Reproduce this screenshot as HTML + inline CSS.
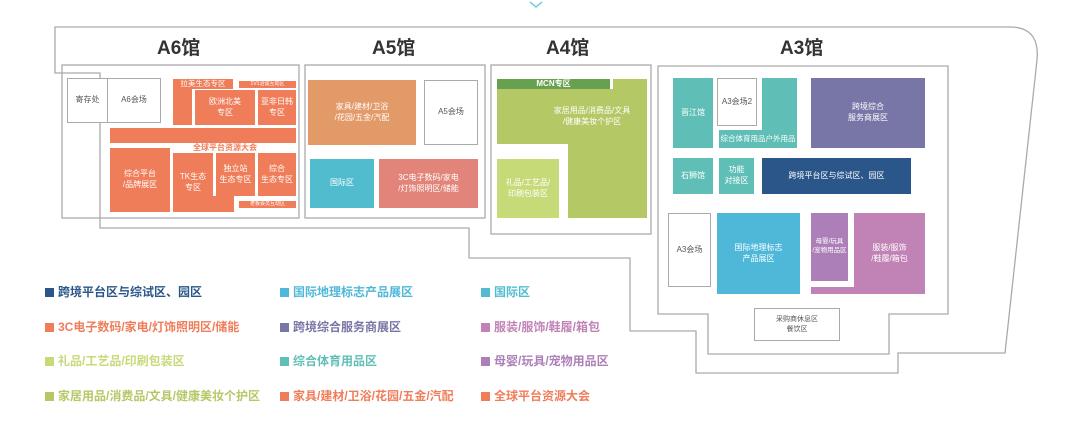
<!DOCTYPE html>
<html><head><meta charset="utf-8"><style>
body{margin:0;width:1080px;height:441px;background:#fff;position:relative;overflow:hidden;font-family:"Liberation Sans","Noto Sans CJK SC",sans-serif;}
.b{position:absolute;display:flex;align-items:center;justify-content:center;text-align:center;color:#fff;font-size:8px;line-height:1.35;box-sizing:border-box;}
.w{background:#fff;border:1px solid #aaa;color:#555;}
.t{position:absolute;font-size:19px;font-weight:bold;color:#333;}
.lg{position:absolute;font-size:12px;font-weight:bold;white-space:nowrap;}
.lg i{display:inline-block;width:9px;height:9px;margin-right:4px;vertical-align:-1px;}
.o{background:#ef7d5a}
</style></head><body>
<svg width="1080" height="441" style="position:absolute;left:0;top:0" fill="none" stroke="#aaa" stroke-width="1.3">
<polyline points="530,2 536,7 542,2" stroke="#5cc8dc"/>
<path d="M55,27 L1010,27 Q1040,27 1037,60 L1005,353 L898,353 L898,373 L696,373 L696,331 L630,331 L630,258 L469,258 L469,228 L100,228 L100,73 L55,73 Z"/>
<rect x="62" y="65" width="237" height="153"/>
<rect x="305" y="65" width="180" height="153"/>
<rect x="491" y="65" width="160" height="169"/>
<path d="M658,66 L948,66 L948,314 L889,314 L889,354 L708,354 L708,314 L658,314 Z"/>
</svg>
<div class="t" style="left:157px;top:33px">A6馆</div>
<div class="t" style="left:372px;top:33px">A5馆</div>
<div class="t" style="left:546px;top:33px">A4馆</div>
<div class="t" style="left:780px;top:33px">A3馆</div>

<div class="b w" style="left:67px;top:78px;width:41px;height:45px">寄存处</div>
<div class="b w" style="left:107px;top:78px;width:54px;height:45px">A6会场</div>
<div class="b o" style="left:173px;top:79px;width:60px;height:10px;font-size:7.5px">拉美生态专区</div>
<div class="b o" style="left:173px;top:88px;width:19px;height:37px"></div>
<div class="b o" style="left:239px;top:81px;width:57px;height:7px;font-size:5px">1V1洽谈互动区</div>
<div class="b o" style="left:195px;top:90px;width:60px;height:35px">欧洲北美<br>专区</div>
<div class="b o" style="left:258px;top:90px;width:38px;height:35px">亚非日韩<br>专区</div>
<div class="b o" style="left:110px;top:128px;width:186px;height:15px"></div>
<div class="b" style="left:160px;top:143px;width:130px;height:10px;color:#ef7d5a;font-weight:bold;font-size:8px">全球平台资源大会</div>
<div class="b o" style="left:110px;top:148px;width:60px;height:64px">综合平台<br>/品牌展区</div>
<div class="b o" style="left:173px;top:153px;width:40px;height:59px">TK生态<br>专区</div>
<div class="b o" style="left:212px;top:196px;width:22px;height:16px"></div>
<div class="b o" style="left:216px;top:153px;width:39px;height:43px">独立站<br>生态专区</div>
<div class="b o" style="left:258px;top:153px;width:38px;height:43px">综合<br>生态专区</div>
<div class="b o" style="left:239px;top:201px;width:57px;height:7px;font-size:5px">老板会员互动区</div>

<div class="b" style="left:308px;top:80px;width:108px;height:65px;background:#e39a69">家具/建材/卫浴<br>/花园/五金/汽配</div>
<div class="b w" style="left:424px;top:80px;width:54px;height:65px">A5会场</div>
<div class="b" style="left:310px;top:159px;width:64px;height:49px;background:#52bccf">国际区</div>
<div class="b" style="left:379px;top:159px;width:99px;height:49px;background:#e2847a">3C电子数码/家电<br>/灯饰照明区/储能</div>

<div class="b" style="left:497px;top:79px;width:113px;height:10px;background:#67a04f;font-weight:bold">MCN专区</div>
<div class="b" style="left:613px;top:79px;width:34px;height:11px;background:#b5c866"></div>
<div class="b" style="left:497px;top:89px;width:150px;height:55px;background:#b5c866;padding-left:40px">家居用品/消费品/文具<br>/健康美妆个护区</div>
<div class="b" style="left:568px;top:143px;width:79px;height:75px;background:#b5c866"></div>
<div class="b" style="left:497px;top:159px;width:62px;height:59px;background:#c7da78">礼品/工艺品/<br>印刷包装区</div>

<div class="b" style="left:673px;top:78px;width:40px;height:70px;background:#5fbfb6">晋江馆</div>
<div class="b w" style="left:717px;top:78px;width:40px;height:48px">A3会场2</div>
<div class="b" style="left:762px;top:78px;width:35px;height:70px;background:#5fbfb6"></div>
<div class="b" style="left:719px;top:130px;width:78px;height:18px;background:#5fbfb6;font-size:7.5px;white-space:nowrap">综合体育用品户外用品</div>
<div class="b" style="left:811px;top:78px;width:114px;height:70px;background:#7776a6">跨境综合<br>服务商展区</div>
<div class="b" style="left:673px;top:158px;width:40px;height:36px;background:#5fbfb6">石狮馆</div>
<div class="b" style="left:719px;top:158px;width:35px;height:36px;background:#5fbfb6">功能<br>对接区</div>
<div class="b" style="left:762px;top:158px;width:149px;height:36px;background:#2a5689">跨境平台区与综试区、园区</div>
<div class="b w" style="left:668px;top:213px;width:43px;height:74px">A3会场</div>
<div class="b" style="left:717px;top:213px;width:83px;height:81px;background:#4fb8d9">国际地理标志<br>产品展区</div>
<div class="b" style="left:811px;top:213px;width:37px;height:68px;background:#ad7fb8;font-size:6.5px">母婴/玩具<br>/宠物用品区</div>
<div class="b" style="left:854px;top:213px;width:71px;height:81px;background:#c183b5">服装/服饰<br>/鞋履/箱包</div>
<div class="b" style="left:811px;top:287px;width:44px;height:7px;background:#c183b5"></div>
<div class="b w" style="left:754px;top:308px;width:86px;height:33px;font-size:7px">采购商休息区<br>餐饮区</div>

<div class="lg" style="left:45px;top:283px;color:#2a5689"><i style="background:#2a5689"></i>跨境平台区与综试区、园区</div>
<div class="lg" style="left:280px;top:283px;color:#4fb8d9"><i style="background:#4fb8d9"></i>国际地理标志产品展区</div>
<div class="lg" style="left:481px;top:283px;color:#52bccf"><i style="background:#52bccf"></i>国际区</div>
<div class="lg" style="left:45px;top:318px;color:#ef7d5a"><i style="background:#ef7d5a"></i>3C电子数码/家电/灯饰照明区/储能</div>
<div class="lg" style="left:280px;top:318px;color:#7776a6"><i style="background:#7776a6"></i>跨境综合服务商展区</div>
<div class="lg" style="left:481px;top:318px;color:#c183b5"><i style="background:#c183b5"></i>服装/服饰/鞋履/箱包</div>
<div class="lg" style="left:45px;top:352px;color:#c7da78"><i style="background:#c7da78"></i>礼品/工艺品/印刷包装区</div>
<div class="lg" style="left:280px;top:352px;color:#5fbfb6"><i style="background:#5fbfb6"></i>综合体育用品区</div>
<div class="lg" style="left:481px;top:352px;color:#ad7fb8"><i style="background:#ad7fb8"></i>母婴/玩具/宠物用品区</div>
<div class="lg" style="left:45px;top:387px;color:#b5c866"><i style="background:#b5c866"></i>家居用品/消费品/文具/健康美妆个护区</div>
<div class="lg" style="left:280px;top:387px;color:#ef7d5a"><i style="background:#ef7d5a"></i>家具/建材/卫浴/花园/五金/汽配</div>
<div class="lg" style="left:481px;top:387px;color:#ef7d5a"><i style="background:#ef7d5a"></i>全球平台资源大会</div>
</body></html>
